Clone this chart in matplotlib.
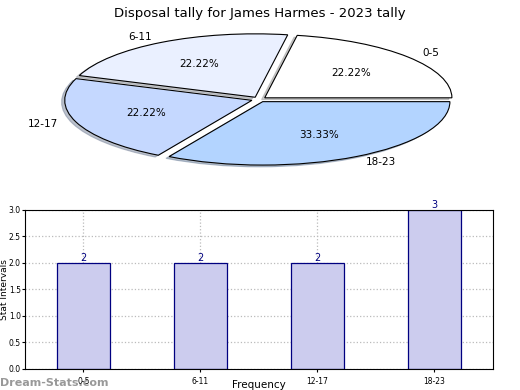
import matplotlib
matplotlib.use("Agg")
import matplotlib.pyplot as plt
import numpy as np

# data
categories = ["0-5", "6-11", "12-17", "18-23"]
counts = [2, 2, 2, 3]
pie_colors = ["#ffffff", "#eaf0ff", "#c5d8ff", "#b3d4ff"]

fig = plt.figure(figsize=(5.2, 3.9), dpi=100)

# pie (stretched ellipse)
ax1 = fig.add_axes([0.048, 0.545, 0.9, 0.4])
ax1.pie(counts, labels=categories, colors=pie_colors, startangle=0,
        explode=[0.04] * 4, shadow={"ox": -0.012, "oy": -0.02, "shade": 0.4},
        autopct="%.2f%%", pctdistance=0.6, labeldistance=1.1,
        wedgeprops={"edgecolor": "black", "linewidth": 0.8},
        textprops={"fontsize": 7.5})
ax1.set_aspect("auto")
ax1.set_xlim(-1.25, 1.25)
ax1.set_ylim(-1.23, 1.23)
ax1.axis("off")
fig.text(0.5, 0.965, "Disposal tally for James Harmes - 2023 tally",
         ha="center", va="center", fontsize=9.5)

# bars
ax2 = fig.add_axes([0.048, 0.054, 0.9, 0.408])
x = np.arange(len(categories))
ax2.bar(x, counts, width=0.45, color="#ccccee", edgecolor="navy", linewidth=0.9, zorder=2)
for xi, c in zip(x, counts):
    ax2.text(xi, c, str(c), ha="center", va="bottom", color="navy", fontsize=7)
ax2.set_xlim(-0.5, 3.5)
ax2.set_ylim(0, 3.0)
ax2.set_yticks(np.arange(0, 3.01, 0.5))
ax2.set_xticks(x)
ax2.set_xticklabels(categories)
ax2.tick_params(labelsize=5.5, length=2)
ax2.tick_params(axis="y", pad=1)
ax2.grid(True, linestyle=":", color="#bbbbbb", linewidth=0.9, zorder=3)
for s in ax2.spines.values():
    s.set_zorder(4)
ax2.set_ylabel("Stat Intervals", fontsize=6.5)
ax2.yaxis.set_label_coords(-0.034, 0.5)
ax2.set_xlabel("Frequency", fontsize=7.5)
ax2.xaxis.set_label_coords(0.5, -0.07)

fig.text(0.0, 0.005, "Dream-Stats.com", color="#999999", fontsize=8,
         fontweight="bold", ha="left", va="bottom")

fig.savefig("out.png", dpi=100)
